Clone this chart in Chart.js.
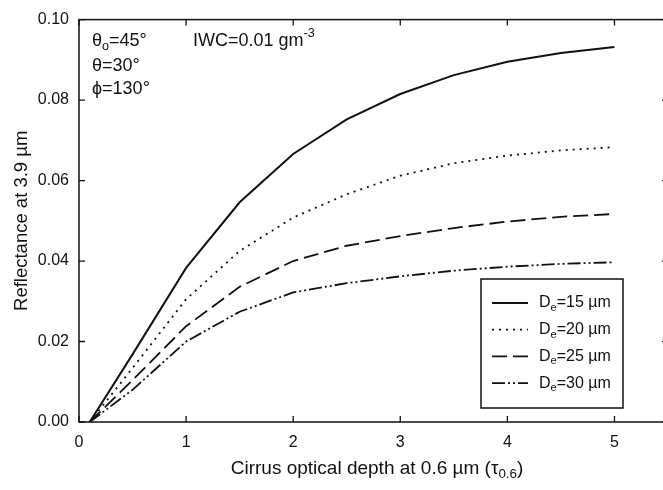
<!DOCTYPE html>
<html>
<head>
<meta charset="utf-8">
<script src="https://cdn.jsdelivr.net/npm/chart.js@4.4.1/dist/chart.umd.min.js"></script>
<style>
  html, body { margin: 0; padding: 0; background: #fff; overflow: hidden; }
  #wrap { position: relative; width: 672px; height: 490px; }
</style>
</head>
<body>
<div id="wrap"><canvas id="refl"></canvas></div>
<script>
// optical depth values (x) and reflectance for each effective size
const tau = [0.1, 0.5, 1, 1.5, 2, 2.5, 3, 3.5, 4, 4.5, 5];
const r15 = [0, 0.0168, 0.0383, 0.0546, 0.0666, 0.0752, 0.0815, 0.0862, 0.0895, 0.0917, 0.0932];
const r20 = [0, 0.0134, 0.0305, 0.0425, 0.0508, 0.0566, 0.0612, 0.0643, 0.0662, 0.0675, 0.0683];
const r25 = [0, 0.0104, 0.0238, 0.0336, 0.0400, 0.0438, 0.0462, 0.0482, 0.0498, 0.0510, 0.0517];
const r30 = [0, 0.0080, 0.0200, 0.0274, 0.0322, 0.0345, 0.0362, 0.0376, 0.0386, 0.0393, 0.0397];
const sizes = ["15", "20", "25", "30"];
const yTicks = [0, 0.02, 0.04, 0.06, 0.08, 0.10];
const xTicks = [0, 1, 2, 3, 4, 5];

const FONT = "'Liberation Sans', Arial, Helvetica, sans-serif";
const dashes = [[], [2, 5], [15, 6], [13, 3, 2, 3, 2, 3]];

function pts(vals){
    return tau.map((t, i) => ({x: t, y: vals[i]}));
}

// draws text with sub/superscript parts
function richText(ctx, parts, x, y, size){
    let cx = x;
    parts.forEach((p) => {
        let fs = p.s ? size * 0.7 : size;
        let dy = p.s === "sub" ? size * 0.3 : (p.s === "sup" ? -size * 0.4 : 0);
        ctx.font = fs + "px " + FONT;
        ctx.fillText(p.t, cx, y + dy);
        cx += ctx.measureText(p.t).width;
    });
    return cx - x;
}
function richWidth(ctx, parts, size){
    let w = 0;
    parts.forEach((p) => {
        ctx.font = (p.s ? size * 0.7 : size) + "px " + FONT;
        w += ctx.measureText(p.t).width;
    });
    return w;
}

const framePlugin = {
    id: "frame",
    afterDraw(chart){
        const ctx = chart.ctx;
        const a = chart.chartArea;
        const xs = chart.scales.x, ys = chart.scales.y;
        ctx.save();
        ctx.strokeStyle = "#111";
        ctx.lineWidth = 1.5;
        ctx.setLineDash([]);
        ctx.strokeRect(a.left, a.top, a.right - a.left, a.bottom - a.top);
        ctx.lineWidth = 1.3;
        xTicks.forEach((v) => {
            let px = xs.getPixelForValue(v);
            ctx.beginPath();
            ctx.moveTo(px, a.bottom); ctx.lineTo(px, a.bottom - 6);
            ctx.moveTo(px, a.top); ctx.lineTo(px, a.top + 6);
            ctx.stroke();
        });
        yTicks.forEach((v) => {
            let py = ys.getPixelForValue(v);
            ctx.beginPath();
            ctx.moveTo(a.left, py); ctx.lineTo(a.left + 6, py);
            ctx.moveTo(a.right, py); ctx.lineTo(a.right - 6, py);
            ctx.stroke();
        });

        ctx.fillStyle = "#111";
        ctx.textBaseline = "middle";
        ctx.textAlign = "left";
        // annotations
        richText(ctx, [{t: "θ"}, {t: "o", s: "sub"}, {t: "=45°"}], a.left + 13, 41, 18);
        richText(ctx, [{t: "θ=30°"}], a.left + 13, 66, 18);
        richText(ctx, [{t: "ϕ=130°"}], a.left + 13, 89, 18);
        richText(ctx, [{t: "IWC=0.01 gm"}, {t: "-3", s: "sup"}], a.left + 114, 41, 18);

        // x axis title
        let xt = [{t: "Cirrus optical depth at 0.6 µm (τ"}, {t: "0.6", s: "sub"}, {t: ")"}];
        let w = richWidth(ctx, xt, 19);
        richText(ctx, xt, 377 - w / 2, 469, 19);

        // legend box
        const lx = 481, ly = 279, lw = 142, lh = 129;
        ctx.lineWidth = 1.5;
        ctx.strokeRect(lx, ly, lw, lh);
        chart.data.datasets.forEach((ds, i) => {
            let yy = ly + 24 + i * 26.7;
            ctx.beginPath();
            ctx.lineWidth = ds.borderWidth;
            ctx.setLineDash(ds.borderDash);
            ctx.moveTo(lx + 11, yy); ctx.lineTo(lx + 47, yy);
            ctx.stroke();
            ctx.setLineDash([]);
            richText(ctx, [{t: "D"}, {t: "e", s: "sub"}, {t: "=" + sizes[i] + " µm"}], lx + 58, yy, 16);
        });
        ctx.restore();
    }
};

new Chart(document.querySelector("#refl"), {
    type: "line",
    data: {
        datasets: sizes.map((s, i) => ({
            label: "De=" + s + " µm",
            data: pts([r15, r20, r25, r30][i]),
            borderColor: "#111",
            borderWidth: i === 0 ? 2 : 1.8,
            borderDash: dashes[i],
            pointRadius: 0,
            tension: 0,
            fill: false
        }))
    },
    options: {
        responsive: true,
        maintainAspectRatio: false,
        animation: false,
        layout: {padding: {left: 0, right: 4, top: 12, bottom: 0}},
        plugins: {legend: {display: false}, tooltip: {enabled: false}},
        scales: {
            x: {
                type: "linear",
                min: 0,
                max: 5.5,
                afterFit: (s) => { s.height = 68; },
                grid: {display: false, drawTicks: false},
                border: {display: false},
                ticks: {
                    stepSize: 1,
                    includeBounds: false,
                    padding: 11,
                    color: "#111",
                    font: {family: FONT, size: 16},
                    maxRotation: 0
                }
            },
            y: {
                min: 0,
                max: 0.1,
                afterFit: (s) => { s.width = 79; },
                grid: {display: false, drawTicks: false},
                border: {display: false},
                ticks: {
                    stepSize: 0.02,
                    padding: 10,
                    color: "#111",
                    font: {family: FONT, size: 16},
                    callback: (v) => v.toFixed(2)
                },
                title: {
                    display: true,
                    text: "Reflectance at 3.9 µm",
                    color: "#111",
                    font: {family: FONT, size: 18.5},
                    padding: {top: 11, bottom: 0}
                }
            }
        }
    },
    plugins: [framePlugin]
});
</script>
</body>
</html>
